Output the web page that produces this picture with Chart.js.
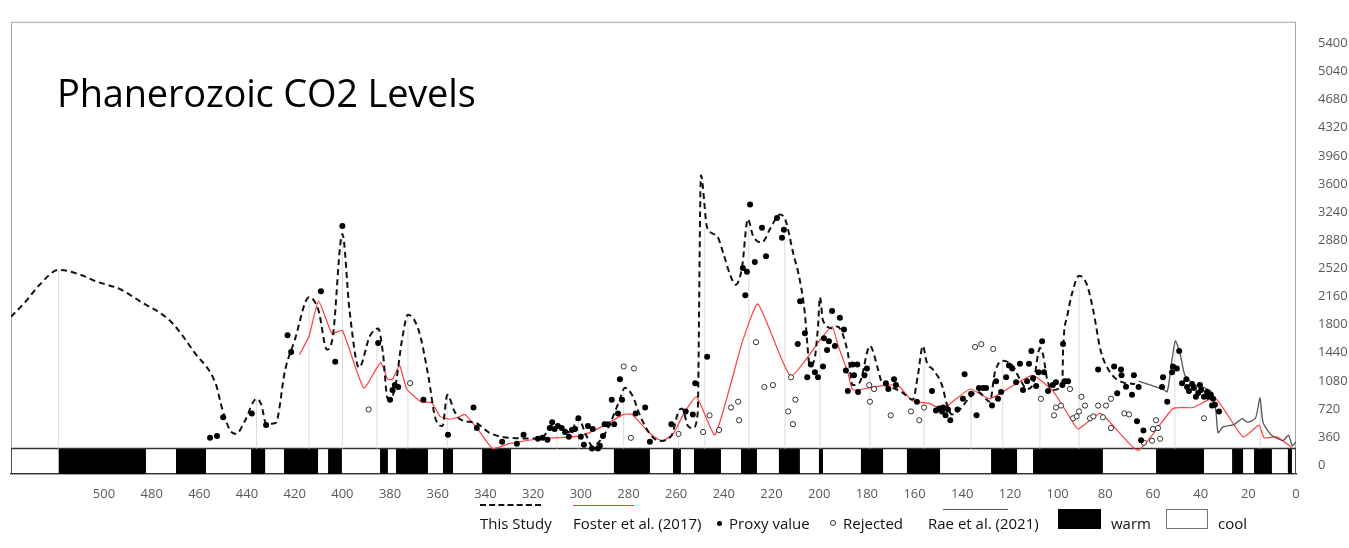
<!DOCTYPE html>
<html>
<head>
<meta charset="utf-8">
<script src="https://cdn.jsdelivr.net/npm/chart.js@4.4.1/dist/chart.umd.min.js"></script>
<style>
body { margin: 0; background: #fff; }
#wrap { position: relative; width: 1349px; height: 548px; font-family: "Open Sans", sans-serif; }
#title { position: absolute; left: 57px; top: 73px; font-size: 38px; line-height: 1; color: #000; letter-spacing: -0.2px; white-space: nowrap; }
.lg { position: absolute; top: 513px; font-size: 15px; line-height: 20px; color: #111; white-space: nowrap; }
.mk { position: absolute; }
</style>
</head>
<body>
<div id="wrap">
  <canvas id="co2Chart" width="1349" height="548"></canvas>
  <div id="title">Phanerozoic CO2 Levels</div>

  <div class="mk" style="left:480px;top:504px;width:61px;border-top:2px dashed #111;"></div>
  <div class="lg" style="left:480px;">This Study</div>
  <div class="mk" style="left:573px;top:505px;width:61px;border-top:1px solid #ff3030;"></div>
  <div class="lg" style="left:573px;">Foster et al. (2017)</div>
  <div class="mk" style="left:717px;top:521px;width:5px;height:5px;border-radius:50%;background:#000;"></div>
  <div class="lg" style="left:729px;">Proxy value</div>
  <div class="mk" style="left:830px;top:520px;width:4px;height:4px;border-radius:50%;border:1px solid #333;"></div>
  <div class="lg" style="left:843px;">Rejected</div>
  <div class="mk" style="left:943px;top:509px;width:65px;border-top:1px solid #555;"></div>
  <div class="lg" style="left:928px;">Rae et al. (2021)</div>
  <div class="mk" style="left:1058px;top:509px;width:43px;height:20px;background:#000;"></div>
  <div class="lg" style="left:1111px;">warm</div>
  <div class="mk" style="left:1166px;top:509px;width:40px;height:18px;border:1px solid #777;background:#fff;"></div>
  <div class="lg" style="left:1218px;">cool</div>
</div>

<script>
// axis ticks
const xTicks = [500, 480, 460, 440, 420, 400, 380, 360, 340, 320, 300, 280, 260, 240, 220, 200, 180, 160, 140, 120, 100, 80, 60, 40, 20, 0];
const yTicks = [0, 360, 720, 1080, 1440, 1800, 2160, 2520, 2880, 3240, 3600, 3960, 4320, 4680, 5040, 5400];

// This Study (age Ma, CO2 ppm)
const studyCurve = [
    [539, 1900], [533, 2090], [527, 2310], [519, 2500], [510, 2440], [503, 2350], [493, 2250], [485, 2100],
    [472, 1840], [462, 1440], [453, 1030], [450.5, 730], [447, 440], [444.5, 400], [441, 560], [436, 850],
    [434, 775], [432, 530], [428, 540], [424, 1220], [420, 1600], [414, 2150], [410, 1980], [406.5, 1480],
    [404, 1650], [400, 2960], [397, 1980], [393, 1250], [388.5, 1650], [385, 1750], [383, 1440], [381, 850],
    [378, 975], [375, 1600], [372.5, 1925], [368, 1725], [364, 1150], [361, 600], [358, 500], [356, 900],
    [353, 690], [350.7, 590], [344, 540], [338, 410], [330, 350], [317, 340], [311, 525], [307, 465],
    [304.5, 415], [301, 600], [298, 400], [295, 240], [292, 310], [288.6, 475], [284, 810], [281.5, 990],
    [278.5, 900], [275, 625], [271, 400], [267, 310], [262, 375], [259, 690], [257.5, 725], [255, 500],
    [253, 475], [251, 650], [249.6, 3710], [247, 3040], [243, 2940], [240, 2690], [237.4, 2440], [235, 2310],
    [232.4, 2525], [229.9, 3150], [227.8, 2940], [224, 2850], [220.6, 3025], [216.4, 3210], [214, 3125],
    [211, 2725], [208, 2350], [206, 1940], [205, 1560], [204, 1275], [202, 1350], [200.5, 1775], [199.7, 2150],
    [198.4, 1850], [194, 1750], [192.5, 1775], [188, 1440], [186, 1025], [183, 1060], [178.7, 1525],
    [175.3, 1225], [174, 1080], [170, 1000], [166, 950], [160.7, 840], [158.6, 1150], [156.5, 1525],
    [154.8, 1310], [152.3, 1225], [148.5, 1025], [146.4, 775], [144.3, 650], [141, 713], [136.7, 875],
    [133.4, 938], [128.4, 813], [126.3, 1188], [123, 1338], [119, 1275], [115.8, 1100], [112.8, 975],
    [110.3, 1038], [107.4, 1500], [106, 1400], [104.4, 1100], [102, 963], [98, 1038], [97.7, 1475],
    [96, 1900], [94, 2190], [91, 2425], [87.7, 2310], [85, 1975], [82, 1475], [78, 1190], [72.6, 1060],
    [67.5, 1040]
];

// Foster et al. (2017)
const fosterCurve = [
    [418, 1413], [414, 1650], [410, 2100], [404.4, 1688], [400, 1725], [391, 988], [384, 1313], [381, 1100],
    [379, 1100], [376, 1275], [373, 975], [367, 813], [362.5, 800], [359, 625], [355, 588], [351.5, 613],
    [348.6, 650], [343.5, 475], [337, 213], [330, 275], [317, 338], [300, 375], [290.7, 500], [282, 650],
    [278.5, 650], [272, 438], [268, 338], [265.5, 313], [261, 413], [257, 650], [251.5, 875], [243.7, 388],
    [232.4, 1563], [225.7, 2063], [212, 1138], [199.7, 1600], [194.6, 1775], [192, 1525], [188, 1188],
    [186, 963], [181.6, 975], [174.5, 1013], [167, 1025], [161, 825], [153.5, 788], [148.5, 713],
    [136.7, 975], [128.4, 850], [110.7, 1150], [102, 950], [95.6, 650], [91.4, 463], [82, 663], [66.3, 188],
    [51.6, 725], [43.2, 738], [34, 863], [22.2, 363], [15.5, 513], [13.4, 350], [8, 363], [1.7, 225]
];

// Rae et al. (2021)
const raeCurve = [
    [66, 1075], [61, 1025], [56, 975], [54, 940], [52, 1350], [50.6, 1590], [48.7, 1440], [46.6, 1150],
    [43, 1040], [39, 1000], [35.5, 940], [33.6, 690], [32.7, 415], [30.6, 490], [26, 520], [22.5, 595],
    [20.4, 550], [17, 600], [15.1, 860], [13.8, 545], [10.5, 390], [5.5, 315], [3.2, 385], [1.5, 250], [0, 300]
];

// proxy values
const proxyPoints = [
    [455.5, 350], [452.6, 375], [450, 613], [438, 663], [432, 513], [423, 1663], [421.5, 1450], [409, 2225],
    [403, 1325], [400, 3063], [385, 1563], [380, 838], [379, 963], [378, 1025], [376.6, 1000], [366, 838],
    [355.7, 388], [345, 738], [343.6, 475], [333, 300], [326.8, 275], [324, 388], [318, 338], [316, 350],
    [314, 325], [313, 475], [312, 550], [311, 463], [309.6, 500], [308, 475], [306.6, 425], [305, 363],
    [303.7, 450], [302.4, 463], [301, 600], [300, 363], [298.7, 263], [297, 500], [295.3, 213], [295, 463],
    [292.8, 213], [292, 250], [290.7, 375], [290, 525], [288.6, 525], [287, 838], [286, 525], [283.6, 1100],
    [282.7, 838], [284.4, 663], [277, 663], [273, 738], [271, 300], [262, 525], [256, 688], [253, 650],
    [252, 1050], [247, 1388], [232, 2525], [230.3, 2475], [231, 2175], [229, 3338], [227, 2600], [224, 3038],
    [222.3, 2675], [217.7, 3163], [215.6, 2913], [214.8, 3013], [208, 2100], [206, 1688], [209, 1550],
    [205, 1125], [203.5, 1288], [201.8, 1188], [200.5, 1125], [198.4, 1263], [198, 1625], [196.7, 1475],
    [195.9, 1588], [194.6, 1975], [193.4, 1525], [191.3, 1888], [189.6, 1738], [188.8, 1213], [188, 950],
    [186, 1288], [185.4, 1150], [184, 1288], [183.7, 938], [181, 1150], [180, 1238], [172, 1050], [171, 975],
    [168.6, 1100], [167.8, 1025], [159, 813], [152.7, 950], [151, 700], [149.7, 725], [148.5, 688], [148, 738],
    [147, 638], [146, 713], [145, 575], [142, 713], [139.7, 850], [139, 1163], [136.3, 913], [134, 638],
    [133, 988], [131.3, 988], [130, 988], [127.5, 763], [125.8, 1075], [125, 850], [123.7, 938], [121.6, 1125],
    [120.4, 1275], [119, 1238], [117.4, 1063], [115.8, 1300], [114.5, 963], [112.8, 1075], [112, 1300],
    [111, 1463], [110.3, 1113], [109, 1013], [108, 1188], [106.5, 1588], [105.7, 1188], [104, 950], [102, 1025],
    [100.7, 1063], [98, 1025], [97.7, 1550], [97, 1075], [95.6, 1075], [83, 1225], [76.3, 1263], [73.4, 1225],
    [73.2, 1150], [75, 920], [71.3, 1005], [68.8, 900], [68, 1150], [66, 1000], [66.7, 563], [64, 445],
    [65, 318], [55.8, 1125], [56.2, 1000], [54, 813], [52, 1188], [51.6, 1263], [50, 1238], [49, 1463],
    [47.8, 1050], [46, 1100], [45.7, 1000], [44.9, 950], [43.6, 1038], [42.8, 988], [42, 875], [41, 925],
    [40.3, 1025], [39.8, 963], [38.6, 875], [37.3, 938], [36.9, 875], [35.7, 900], [34.8, 850], [35.2, 763],
    [34, 775], [32.3, 688]
];

// rejected values
const rejectedPoints = [
    [389, 713], [371.6, 1050], [282, 1263], [277.7, 1238], [279, 350], [259, 400], [248.7, 425], [246, 638],
    [242, 450], [237, 738], [234, 813], [233.6, 575], [226.5, 1575], [223, 1000], [219.4, 1025], [213, 688],
    [211.8, 1125], [211, 525], [210, 838], [179, 1025], [178.7, 813], [177, 975], [170, 638], [161.5, 688],
    [158, 575], [156, 738], [134.6, 1513], [132, 1550], [127, 1488], [107, 850], [101.5, 638], [100.7, 738],
    [98.6, 763], [94.8, 975], [93.5, 600], [92, 625], [91, 688], [90, 875], [88.5, 763], [86.4, 600], [85, 625],
    [83, 763], [81, 613], [79.7, 763], [77.6, 850], [77.6, 475], [72, 663], [70, 650], [63.8, 288], [60.4, 313],
    [60, 463], [58.7, 575], [57.9, 475], [57, 338], [38.6, 600]
];

// vertical drop lines (age, CO2 at the curve)
const dropAges = [519, 436, 414, 400, 385.5, 372.5, 356, 310, 301, 282, 259, 248, 229.5, 214.4, 199.7, 178.7, 156, 136.3, 123, 107.4, 91, 50.8, 15];
const dropCO2 = [2500, 850, 2150, 2960, 1750, 1925, 900, 520, 600, 990, 700, 3040, 3150, 3125, 2150, 1525, 1500, 900, 1338, 1525, 2425, 1588, 860];

// warm intervals (start, end in Ma)
const warmStart = [519, 469.8, 438.3, 424.5, 406, 384.2, 377.5, 357.8, 341.4, 286.1, 261.3, 252.5, 232.8, 216.9, 200.1, 182.5, 163.2, 127.9, 110.3, 58.7, 26.8, 17.6, 3.4];
const warmEnd = [482.4, 457.2, 432.4, 410.2, 400.2, 380.9, 364.1, 353.6, 329.3, 271, 258, 241.2, 226.1, 208.1, 198.4, 173.2, 149.3, 117, 81, 38.6, 22.2, 10.1, 1.7];

const X_MAX = 539;
const Y_MIN = -113;
const Y_MAX = 5676;
const STRIP_TOP = 213;

const toXY = (arr) => arr.map((p) => ({ x: p[0], y: p[1] }));

// stepped outline for warm bars
let warmSteps = [{ x: X_MAX, y: Y_MIN }];
warmStart.forEach((s, i) => {
    warmSteps.push({ x: s, y: STRIP_TOP });
    warmSteps.push({ x: warmEnd[i], y: Y_MIN });
});
warmSteps.push({ x: 0, y: Y_MIN });

let dropData = [];
dropAges.forEach((a, i) => {
    dropData.push({ x: a, y: STRIP_TOP });
    dropData.push({ x: a, y: dropCO2[i] });
    dropData.push({ x: a, y: null });
});

const stripOutline = [
    { x: X_MAX, y: Y_MIN }, { x: X_MAX, y: STRIP_TOP }, { x: 0, y: STRIP_TOP }, { x: 0, y: Y_MIN }
];

const framePlugin = {
    id: "frame",
    beforeDatasetsDraw(chart) {
        const a = chart.chartArea;
        const ctx = chart.ctx;
        ctx.save();
        ctx.strokeStyle = "#a6a6a6";
        ctx.lineWidth = 1;
        ctx.strokeRect(a.left + 0.5, a.top + 0.5, a.right - a.left - 1, a.bottom - a.top);
        ctx.restore();
    },
};

const ctx = document.getElementById("co2Chart").getContext("2d");
const co2Chart = new Chart(ctx, {
    type: "line",
    data: {
        datasets: [
            {
                label: "Proxy value",
                data: toXY(proxyPoints),
                showLine: false,
                pointRadius: 3,
                pointBackgroundColor: "#000",
                pointBorderWidth: 0,
            },
            {
                label: "Rejected",
                data: toXY(rejectedPoints),
                showLine: false,
                pointRadius: 2.6,
                pointBackgroundColor: "#fff",
                pointBorderColor: "#333",
                pointBorderWidth: 1,
            },
            {
                label: "This Study",
                data: toXY(studyCurve),
                borderColor: "#111",
                borderWidth: 2,
                borderDash: [6, 4],
                pointRadius: 0,
                cubicInterpolationMode: "monotone",
            },
            {
                label: "Rae et al. (2021)",
                data: toXY(raeCurve),
                borderColor: "#555",
                borderWidth: 1.3,
                pointRadius: 0,
                tension: 0.2,
            },
            {
                label: "Foster et al. (2017)",
                data: toXY(fosterCurve),
                borderColor: "#ff3d3d",
                borderWidth: 1.2,
                pointRadius: 0,
                tension: 0.15,
            },
            {
                label: "drop",
                data: dropData,
                borderColor: "#dcdcdc",
                borderWidth: 1,
                pointRadius: 0,
                spanGaps: false,
            },
            {
                label: "strip",
                data: stripOutline,
                borderColor: "#333",
                borderWidth: 1.5,
                pointRadius: 0,
            },
            {
                label: "warm",
                data: warmSteps,
                stepped: true,
                borderWidth: 0,
                borderColor: "rgba(0,0,0,0)",
                backgroundColor: "#000",
                fill: "start",
                pointRadius: 0,
            },
        ],
    },
    options: {
        responsive: false,
        animation: false,
        layout: { padding: { left: 11, top: 12, right: 0, bottom: 0 } },
        plugins: {
            legend: { display: false },
            tooltip: { enabled: false },
        },
        scales: {
            x: {
                type: "linear",
                reverse: true,
                min: 0,
                max: X_MAX,
                grid: { display: false },
                border: { display: true, color: "#333", width: 1.5 },
                afterBuildTicks: (axis) => {
                    axis.ticks = xTicks.map((v) => ({ value: v }));
                },
                afterFit: (axis) => {
                    axis.height = 74;
                },
                ticks: {
                    color: "#595959",
                    font: { family: "Open Sans", size: 13 },
                    padding: 4,
                    maxRotation: 0,
                    autoSkip: false,
                    callback: (v) => String(v),
                },
            },
            y: {
                position: "right",
                min: Y_MIN,
                max: Y_MAX,
                grid: { display: false },
                border: { display: false },
                afterBuildTicks: (axis) => {
                    axis.ticks = yTicks.map((v) => ({ value: v }));
                },
                afterFit: (axis) => {
                    axis.width = 53;
                },
                ticks: {
                    color: "#595959",
                    font: { family: "Open Sans", size: 13 },
                    padding: 14,
                    callback: (v) => String(v),
                },
            },
        },
    },
    plugins: [framePlugin],
});
</script>
</body>
</html>
